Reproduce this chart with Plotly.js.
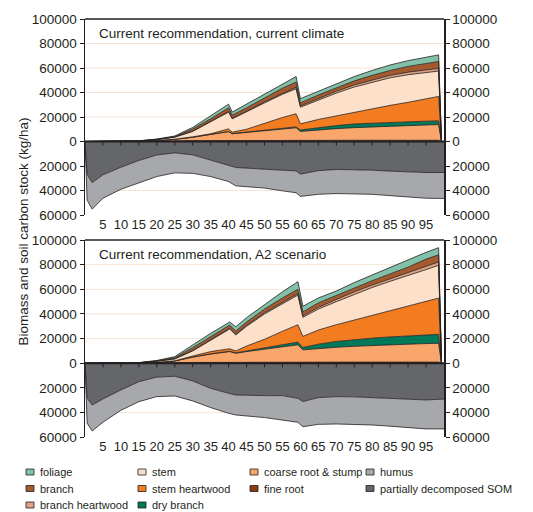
<!DOCTYPE html>
<html>
<head>
<meta charset="utf-8">
<script src="https://cdn.plot.ly/plotly-3.0.1.min.js"></script>
<style>html,body{margin:0;padding:0;background:#fff;}#chart{width:533px;height:512px;}</style>
</head>
<body>
<div id="chart"></div>
<script>
// ---------- DATA (kg/ha) ----------
// Panel 1: Current recommendation, current climate
const xPos1 = [0,5,10,15,20,25,30,35,40,41,45,50,55,58.8,60,65,70,75,80,85,90,95,98.5,99.3];
const fineRoot1   = [0,0,0,100,300,500,700,800,900,800,900,1000,1000,1000,900,1000,1000,1000,1000,1000,1000,1000,1000,0];
const coarseRoot1 = [0,0,0,100,500,1300,2800,5000,7100,5500,6400,7500,9000,10200,7300,8500,9500,10300,11000,11500,12000,12500,12800,0];
const dryBranch1  = [0,0,0,0,0,0,0,100,200,200,300,500,600,700,1200,2000,2500,3000,3000,3300,3300,3100,3000,0];
const stemHeart1  = [0,0,0,0,0,100,300,400,2100,1100,2400,6000,9000,10700,5000,6500,8000,9700,11500,13700,15700,18400,20000,0];
const stem1       = [0,0,50,200,700,1600,4400,9500,13700,10900,14000,16500,18900,20400,13600,16000,18500,20500,22000,22500,22500,21500,20700,0];
const branchHeart1= [0,0,0,50,100,200,300,400,500,500,600,800,1000,1300,1000,1200,1500,1700,1800,2000,2100,2200,2200,0];
const branch1     = [0,0,30,50,200,300,1800,2300,3000,2500,2900,3200,4000,4200,2500,2800,3000,3300,3700,4000,4700,5300,5600,0];
const foliage1    = [0,0,20,100,200,500,1200,2500,3000,2500,3000,3300,3800,4500,3500,3000,3500,3500,4000,4500,4700,5000,5400,0];
const xNeg1  = [0,0.6,2,5,10,15,20,25,30,35,40,42,50,55,58.8,60,65,70,75,80,85,90,95,100];
const som1   = [0,27000,33500,27200,21000,15500,11000,9300,10900,15000,19000,21200,22600,23200,24000,26600,23800,22800,22800,23400,24200,25000,25300,25300];
const humus1 = [0,21000,21700,19100,18000,18000,17600,16300,15100,13600,13700,15000,15400,17100,17800,18200,19300,19700,19800,19700,20000,20500,21000,21200];

// Panel 2: Current recommendation, A2 scenario
const xPos2 = [0,5,10,15,20,25,30,35,40.3,42,45,50,55,59.3,60.7,65,70,75,80,85,90,95,98.5,99.3];
const fineRoot2   = [0,0,0,100,300,500,700,800,900,900,1000,1000,1000,1000,900,1000,1000,1000,1000,1000,1000,1000,1000,0];
const coarseRoot2 = [0,0,0,100,500,1400,4300,6700,8600,7200,8500,10500,12500,14000,10000,11000,12000,12800,13500,14000,14500,15000,15200,0];
const dryBranch2  = [0,0,0,0,0,0,100,200,300,400,500,1200,1700,2200,1900,3500,4700,5400,5900,6400,6800,7000,7300,0];
const stemHeart2  = [0,0,0,0,0,100,800,1800,2000,1500,4000,6800,10800,14100,9000,11500,13600,16000,18500,21600,24500,27500,29400,0];
const stem2       = [0,0,50,200,800,1500,4100,9400,16000,13000,16000,20500,22500,24000,15500,17000,18700,20800,22600,23500,24200,25500,26600,0];
const branchHeart2= [0,0,0,50,100,300,500,600,600,700,800,1000,1200,1200,1200,1400,1800,2000,2000,2200,2300,2500,2700,0];
const branch2     = [0,0,30,50,300,800,2200,2100,2600,2500,2700,3000,3300,3500,3200,3600,3200,3500,3500,3800,4700,6000,5800,0];
const foliage2    = [0,0,20,100,300,800,2200,2700,2500,3500,3500,3500,5000,6200,4600,4000,3600,4000,4700,5300,5700,5500,5800,0];
const xNeg2  = [0,0.6,2,5,10,15,20,25,30,35,40,42,50,55,59.3,60.7,65,70,75,80,85,90,95,100];
const som2   = [0,28400,33800,28900,21600,14900,11200,10500,14300,20300,24300,25700,26200,26200,28400,31000,27800,27000,27200,27800,28300,28900,29700,29000];
const humus2 = [0,20200,21100,18900,16500,16200,15800,16000,16200,15600,16200,16200,17800,19800,19400,20400,21700,22200,22300,22200,22700,23000,23500,24200];

const panelTitles = ['Current recommendation, current climate','Current recommendation, A2 scenario'];
const xTicks = [5,10,15,20,25,30,35,40,45,50,55,60,65,70,75,80,85,90,95];
const yTickVals = [-60000,-40000,-20000,0,20000,40000,60000,80000,100000];
const yTickText = ['60000','40000','20000','0','20000','40000','60000','80000','100000'];
const gridVals = [-40000,-20000,20000,40000,60000,80000];

const seriesNames = ['fine root','coarse root & stump','dry branch','stem heartwood','stem','branch heartwood','branch','foliage'];
const negNames = ['partially decomposed SOM','humus'];
const colors = {
  'foliage':'#82c0a8','branch':'#a45a2e','branch heartwood':'#dca283','stem':'#fde0ca',
  'stem heartwood':'#f47c20','dry branch':'#00795b','coarse root & stump':'#f8a66c',
  'fine root':'#8b3a12','humus':'#a6a8ab','partially decomposed SOM':'#65666a'
};
// legend layout: columns of names
const legendCols = [
  ['foliage','branch','branch heartwood'],
  ['stem','stem heartwood','dry branch'],
  ['coarse root & stump','fine root'],
  ['humus','partially decomposed SOM']
];

// ---------- LAYOUT GEOMETRY ----------
const W = 533, H = 512;
const px = v => v / W, py = v => 1 - v / H;
const xDom = [px(85), px(444)];
const domTop = [py(215), py(19)];
const domBot = [py(437.3), py(240)];
const yRange = [-60000, 100000];
const legColX = [26, 138, 250, 366];
const legRowY = [472, 488.5, 505];
const txtColor = '#231f20';
const font = 'Liberation Sans, Arial, Helvetica, sans-serif';

const panels = [
  {x: xPos1, pos: [fineRoot1,coarseRoot1,dryBranch1,stemHeart1,stem1,branchHeart1,branch1,foliage1], xn: xNeg1, neg: [som1,humus1]},
  {x: xPos2, pos: [fineRoot2,coarseRoot2,dryBranch2,stemHeart2,stem2,branchHeart2,branch2,foliage2], xn: xNeg2, neg: [som2,humus2]}
];

const traces = [];
panels.forEach((p, i) => {
  const xa = i === 0 ? 'x' : 'x2';
  const ya = i === 0 ? 'y' : 'y2';
  const yn = i === 0 ? 'y3' : 'y4';
  seriesNames.forEach((nm, k) => {
    traces.push({
      type: 'scatter', mode: 'lines', name: nm, x: p.x, y: p.pos[k],
      stackgroup: 'pos' + i, xaxis: xa, yaxis: ya,
      fillcolor: colors[nm], line: {color: '#231f20', width: 0.8},
      showlegend: false, hoverinfo: 'x+y+name'
    });
  });
  negNames.forEach((nm, k) => {
    traces.push({
      type: 'scatter', mode: 'lines', name: nm, x: p.xn, y: p.neg[k].map(v => -v),
      stackgroup: 'neg' + i, xaxis: xa, yaxis: yn,
      fillcolor: colors[nm], line: {color: '#231f20', width: 0.8},
      showlegend: false, hoverinfo: 'x+name'
    });
  });
});

function xAxis(anchor) {
  return {domain: xDom, range: [0, 100], anchor: anchor, tickmode: 'array', tickvals: xTicks,
    ticks: '', showline: false, showgrid: false, zeroline: false, fixedrange: true,
    tickfont: {family: 'Liberation Sans Narrow, Arial Narrow, ' + font, size: 13, color: txtColor}};
}
function yAxis(dom, side, overlay) {
  const a = {domain: dom, range: yRange, anchor: dom === domTop ? 'x' : 'x2',
    side: side, tickmode: 'array', tickvals: yTickVals, ticktext: yTickText,
    ticks: 'outside', ticklen: 4, tickwidth: 1, tickcolor: '#231f20',
    showline: true, linecolor: '#231f20', linewidth: 1.5, showgrid: false, zeroline: false, fixedrange: true,
    tickfont: {family: font, size: 13.5, color: txtColor}};
  if (overlay) a.overlaying = overlay;
  return a;
}

const shapes = [];
const annotations = [];
[['x','y',domTop],['x2','y2',domBot]].forEach(([xa, ya, dom], i) => {
  gridVals.forEach(v => shapes.push({type: 'line', xref: xa + ' domain', x0: 0, x1: 1, yref: ya, y0: v, y1: v,
    line: {color: '#f6e5d6', width: 1}, layer: 'below'}));
  shapes.push({type: 'line', xref: xa + ' domain', x0: 0, x1: 1, yref: ya + ' domain', y0: 1, y1: 1,
    line: {color: '#231f20', width: 1.5}, layer: 'above'});
  shapes.push({type: 'line', xref: xa + ' domain', x0: 0, x1: 1, yref: ya, y0: 0, y1: 0,
    line: {color: '#231f20', width: 2}, layer: 'above'});
  const pxPerUnit = (dom[1] - dom[0]) * H / (yRange[1] - yRange[0]);
  const tickData = 4 / pxPerUnit;
  xTicks.forEach(v => shapes.push({type: 'line', xref: xa, x0: v, x1: v, yref: ya, y0: 0, y1: -tickData,
    line: {color: '#231f20', width: 1}, layer: 'above'}));
  annotations.push({text: panelTitles[i], xref: 'paper', yref: 'paper', x: px(97), y: py(i === 0 ? 33 : 254),
    xanchor: 'left', yanchor: 'middle', showarrow: false, font: {family: font, size: 13.5, color: txtColor}});
});

annotations.push({text: 'Biomass and soil carbon stock (kg/ha)', xref: 'paper', yref: 'paper', x: px(22.5), y: py(232),
  textangle: -90, xanchor: 'center', yanchor: 'middle', showarrow: false, font: {family: font, size: 13.5, color: txtColor}});

legendCols.forEach((col, c) => {
  col.forEach((nm, r) => {
    const sx = legColX[c], cy = legRowY[r];
    shapes.push({type: 'rect', xref: 'paper', yref: 'paper', x0: px(sx), x1: px(sx + 8), y0: py(cy + 3), y1: py(cy - 3),
      fillcolor: colors[nm], line: {color: '#231f20', width: 0.8}});
    annotations.push({text: nm, xref: 'paper', yref: 'paper', x: px(sx + 12), y: py(cy), xanchor: 'left', yanchor: 'middle',
      showarrow: false, font: {family: font, size: 11, color: txtColor}});
  });
});

const layout = {
  width: W, height: H, margin: {l: 0, r: 0, t: 0, b: 0},
  paper_bgcolor: '#ffffff', plot_bgcolor: 'rgba(0,0,0,0)', showlegend: false,
  xaxis: xAxis('y'), xaxis2: xAxis('y2'),
  yaxis: yAxis(domTop, 'left'), yaxis2: yAxis(domBot, 'left'),
  yaxis3: yAxis(domTop, 'right', 'y'), yaxis4: yAxis(domBot, 'right', 'y2'),
  shapes: shapes, annotations: annotations
};

Plotly.newPlot('chart', traces, layout, {staticPlot: true, displayModeBar: false});
</script>
</body>
</html>
